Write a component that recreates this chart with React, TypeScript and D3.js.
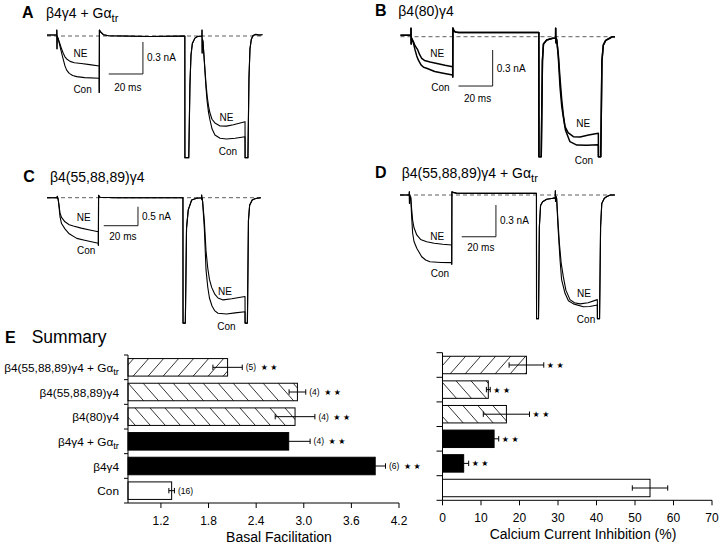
import React from 'react';
import * as d3 from 'd3';

type Pt = [number, number]; // [time (ms), current (nA)]

// ---------- Panel A: β4γ4 + Gαtr ----------
const A_pre: Pt[] = [[0, 0.01], [5.7, 0.01], [5.75, 0.055], [5.85, -0.12], [5.95, 0.0], [6.4, -0.02]];
const A_NE1: Pt[] = [[7.5, -0.07], [8.5, -0.12], [9.5, -0.162], [10.5, -0.195], [11.5, -0.215], [13.5, -0.238], [16, -0.25], [20, -0.258], [25, -0.268], [30.5, -0.281]];
const A_Con1: Pt[] = [[7.5, -0.09], [8.6, -0.162], [9.5, -0.22], [10.5, -0.28], [11.5, -0.32], [13, -0.35], [15, -0.37], [17.4, -0.381], [22, -0.39], [30.5, -0.396]];
const A_mid: Pt[] = [[30.55, -0.53], [30.65, 0.056], [31.5, 0.035], [33, 0.012], [36, 0.003], [60, -0.005], [80.6, 0], [80.65, -1.14], [82.9, -1.14], [83.6, -0.45], [84.2, -0.18], [85, -0.07], [86.5, -0.02], [88, -0.005], [90.6, 0], [90.65, 0.056], [90.75, -0.16], [90.85, -0.03]];
const A_NE2: Pt[] = [[91.2, -0.05], [91.8, -0.18], [92.4, -0.32], [93, -0.45], [93.7, -0.57], [94.5, -0.66], [95.3, -0.722], [96.5, -0.78], [98.2, -0.815], [101.2, -0.843], [105, -0.845], [109, -0.832], [113, -0.815], [115.8, -0.803]];
const A_Con2: Pt[] = [[91.2, -0.05], [91.8, -0.19], [92.4, -0.34], [93, -0.49], [93.7, -0.62], [94.5, -0.72], [95.3, -0.787], [96.5, -0.87], [98.2, -0.928], [101.2, -0.959], [105, -0.965], [110, -0.958], [115.8, -0.944]];
const A_post: Pt[] = [[115.85, -1.14], [117.5, -1.14], [118.1, -0.4], [118.7, -0.12], [119.5, -0.03], [120.5, 0.005], [122, 0.015], [124, 0.01], [126, 0.012]];

// ---------- Panel B: β4(80)γ4 ----------
const B_pre: Pt[] = [[0, 0.012], [6.1, 0.012], [6.15, 0.07], [6.25, -0.06], [6.4, -0.01]];
const B_NE1: Pt[] = [[7.5, -0.04], [8.5, -0.075], [10.1, -0.11], [11.2, -0.15], [12.4, -0.18], [14, -0.198], [17.3, -0.21], [22, -0.225], [26, -0.238], [30.5, -0.25]];
const B_Con1: Pt[] = [[7.5, -0.05], [8.5, -0.11], [9.5, -0.16], [10.4, -0.194], [12, -0.235], [13.5, -0.255], [15.3, -0.263], [20, -0.29], [25, -0.305], [30.5, -0.32]];
const B_mid: Pt[] = [[30.55, -0.336], [30.65, 0.072], [31.2, 0.05], [32, 0.04], [34, 0.035], [60, 0.035], [80.9, 0.035], [80.95, -1.0], [82.3, -1.0], [83.0, -0.2], [83.6, -0.06], [85.5, -0.028], [89, -0.013], [90.7, -0.01], [90.75, 0.07], [90.85, -0.05], [91.0, -0.01]];
const B_NE2: Pt[] = [[91.4, -0.03], [92.3, -0.15], [93.3, -0.35], [94.3, -0.528], [95.2, -0.65], [96.2, -0.75], [98, -0.8], [101.1, -0.833], [105, -0.835], [110, -0.82], [115.7, -0.805]];
const B_Con2: Pt[] = [[91.4, -0.03], [92.3, -0.17], [93.3, -0.42], [94.3, -0.58], [95.2, -0.667], [96.5, -0.78], [99.1, -0.875], [103.1, -0.903], [109, -0.905], [115.7, -0.9]];
const B_post: Pt[] = [[115.75, -1.0], [117.1, -1.0], [117.8, -0.2], [118.6, -0.07], [120, -0.03], [122, -0.015], [124, 0.0], [125.4, 0.0]];

// ---------- Panel C: β4(55,88,89)γ4 ----------
const C_pre: Pt[] = [[0, 0.0], [5.95, 0.0], [6.0, 0.04], [6.1, -0.02], [6.3, 0]];
const C_NE1: Pt[] = [[6.6, -0.06], [7.1, -0.22], [7.6, -0.4], [8.5, -0.52], [10.5, -0.635], [13, -0.71], [15.4, -0.745], [20, -0.8], [25, -0.85], [30, -0.895]];
const C_Con1: Pt[] = [[6.6, -0.07], [7.1, -0.26], [7.6, -0.5], [8.5, -0.68], [10.5, -0.82], [13, -0.95], [17.4, -1.07], [22, -1.12], [26, -1.16], [30, -1.2]];
const C_mid: Pt[] = [[30.05, -1.25], [30.15, 0.06], [31, 0.01], [40, 0], [79.5, 0], [79.55, -3.3], [80.9, -3.3], [81.6, -0.8], [82.6, -0.32], [84.6, -0.06], [87.5, -0.016], [90.4, 0], [90.45, 0.07], [90.55, -0.05], [90.7, 0]];
const C_NE2: Pt[] = [[91, -0.1], [92, -0.6], [93, -1.4], [94, -1.85], [95, -2.15], [96.3, -2.36], [98, -2.53], [100, -2.64], [103, -2.69], [108, -2.66], [115.8, -2.6]];
const C_Con2: Pt[] = [[91, -0.1], [92, -0.8], [93, -1.9], [94, -2.35], [95, -2.64], [96.5, -2.85], [98, -2.97], [100, -3.04], [105, -3.06], [110, -3.03], [115.8, -3.0]];
const C_post: Pt[] = [[115.85, -3.3], [117.2, -3.3], [117.8, -0.6], [118.5, -0.2], [120, -0.06], [122, -0.02], [125, 0]];

// ---------- Panel D: β4(55,88,89)γ4 + Gαtr ----------
const D_pre: Pt[] = [[0, 0.0], [5.4, 0.0], [5.45, 0.031], [5.55, -0.08], [5.7, -0.005]];
const D_NE1: Pt[] = [[6.3, -0.02], [6.8, -0.13], [7.4, -0.24], [8.2, -0.31], [9.8, -0.378], [12, -0.42], [15.6, -0.442], [20, -0.456], [25, -0.466], [30.2, -0.473]];
const D_Con1: Pt[] = [[6.3, -0.03], [6.8, -0.2], [7.4, -0.362], [8.2, -0.44], [9.8, -0.504], [12.7, -0.584], [15, -0.615], [17.5, -0.631], [24, -0.638], [30.2, -0.64]];
const D_mid: Pt[] = [[30.25, -0.655], [30.35, 0.031], [31, 0.025], [33, 0.018], [50, 0.015], [79.8, 0.015], [79.85, -1.17], [81.0, -1.17], [81.5, -0.3], [82.2, -0.1], [83.4, -0.063], [85.8, -0.04], [89.6, -0.03], [90.8, -0.028], [90.85, 0.04], [90.95, -0.06], [91.1, -0.01]];
const D_NE2: Pt[] = [[91.6, -0.03], [92.4, -0.25], [93.2, -0.457], [94.3, -0.65], [95.5, -0.773], [97, -0.9], [99.4, -0.99], [102, -1.02], [105.3, -1.03], [110, -1.02], [115.4, -0.99]];
const D_Con2: Pt[] = [[91.6, -0.035], [92.4, -0.3], [93.6, -0.615], [94.5, -0.8], [96.5, -0.93], [98.5, -1.0], [101.4, -1.03], [107.2, -1.057], [111, -1.055], [115.4, -1.04]];
const D_post: Pt[] = [[115.45, -1.17], [116.7, -1.17], [117.3, -0.3], [118, -0.08], [119.5, -0.03], [121, -0.015], [123, 0.0], [125.7, 0.0]];

// ---------- Summary (E) ----------
const categories = ['β4(55,88,89)γ4 + Gαtr', 'β4(55,88,89)γ4', 'β4(80)γ4', 'β4γ4 + Gαtr', 'β4γ4', 'Con'];
const facilitation = [2.04, 2.92, 2.89, 2.81, 3.9, 1.335];
const facilitationSE = [0.185, 0.105, 0.25, 0.27, 0.13, 0.035];
const cellCounts = ['(5)', '(4)', '(4)', '(4)', '(6)', '(16)'];
const facilitationSignif = [true, true, true, true, true, false];
const inhibition = [21.8, 11.9, 16.6, 13.4, 5.5, 53.9];
const inhibitionSE = [4.5, 0.5, 6.0, 1.2, 1.3, 4.6];
const inhibitionSignif = [true, true, true, true, true, false];
const barFills = ['fwd', 'back', 'back', 'solid', 'solid', 'open'];
const facilitationTicks = [1.2, 1.8, 2.4, 3.0, 3.6, 4.2];
const inhibitionTicks = [0, 10, 20, 30, 40, 50, 60, 70];

const FONT = "'Liberation Sans', Arial, Helvetica, sans-serif";

function RichLabel({ text, x, y, size, anchor, weight }: { text: string; x: number; y: number; size: number; anchor?: string; weight?: string }) {
  const idx = text.indexOf('Gαtr');
  if (idx < 0) {
    return <text x={x} y={y} fontSize={size} textAnchor={anchor || 'start'} fontWeight={weight} fontFamily={FONT}>{text}</text>;
  }
  return (
    <text x={x} y={y} fontSize={size} textAnchor={anchor || 'start'} fontWeight={weight} fontFamily={FONT}>
      {text.slice(0, idx) + 'Gα'}
      <tspan dy={size * 0.28} fontSize={size * 0.8}>tr</tspan>
    </text>
  );
}

type PanelCfg = {
  letter: string; letterX: number; baseY: number; title: string; titleX: number;
  x0: number; y0: number; pxMs: number; pxNA: number; tEnd: number;
  ne: Pt[]; con: Pt[];
  sbT: number; sbI: number; sbNA: number; sbLabel: string; msDy: number;
  labels: [string, number, number][]; lw: number;
};

const panels: PanelCfg[] = [
  {
    letter: 'A', letterX: 22, baseY: 18.3, title: 'β4γ4 + Gαtr', titleX: 46,
    x0: 47, y0: 36, pxMs: 1.71, pxNA: 106.7, tEnd: 126,
    ne: [...A_pre, ...A_NE1, ...A_mid, ...A_NE2, ...A_post],
    con: [...A_pre, ...A_Con1, ...A_mid, ...A_Con2, ...A_post],
    sbT: 56.1, sbI: -0.056, sbNA: 0.3, sbLabel: '0.3 nA', msDy: 13.7,
    labels: [['NE', 19.6, -0.16], ['Con', 20.8, -0.503], ['NE', 105, -0.76], ['Con', 105.8, -1.087]], lw: 1.1,
  },
  {
    letter: 'B', letterX: 375, baseY: 15.5, title: 'β4(80)γ4', titleX: 398.3,
    x0: 400.5, y0: 36.7, pxMs: 1.71, pxNA: 120, tEnd: 125.4,
    ne: [...B_pre, ...B_NE1, ...B_mid, ...B_NE2, ...B_post],
    con: [...B_pre, ...B_Con1, ...B_mid, ...B_Con2, ...B_post],
    sbT: 53.9, sbI: -0.111, sbNA: 0.3, sbLabel: '0.3 nA', msDy: 12,
    labels: [['NE', 21.5, -0.136], ['Con', 23.4, -0.425], ['NE', 106.9, -0.72], ['Con', 107.3, -1.03]], lw: 1.5,
  },
  {
    letter: 'C', letterX: 23.3, baseY: 181.7, title: 'β4(55,88,89)γ4', titleX: 50,
    x0: 47, y0: 197.7, pxMs: 1.71, pxNA: 38, tEnd: 125,
    ne: [...C_pre, ...C_NE1, ...C_mid, ...C_NE2, ...C_post],
    con: [...C_pre, ...C_Con1, ...C_mid, ...C_Con2, ...C_post],
    sbT: 53.2, sbI: -0.237, sbNA: 0.5, sbLabel: '0.5 nA', msDy: 10.3,
    labels: [['NE', 21.5, -0.52], ['Con', 22.9, -1.39], ['NE', 104.1, -2.47], ['Con', 104.9, -3.39]], lw: 1.1,
  },
  {
    letter: 'D', letterX: 375, baseY: 178, title: 'β4(55,88,89)γ4 + Gαtr', titleX: 401.7,
    x0: 400, y0: 195, pxMs: 1.71, pxNA: 105.7, tEnd: 125.7,
    ne: [...D_pre, ...D_NE1, ...D_mid, ...D_NE2, ...D_post],
    con: [...D_pre, ...D_Con1, ...D_mid, ...D_Con2, ...D_post],
    sbT: 56.1, sbI: -0.095, sbNA: 0.3, sbLabel: '0.3 nA', msDy: 10.6,
    labels: [['NE', 21.8, -0.388], ['Con', 23.4, -0.74], ['NE', 107.6, -0.93], ['Con', 108.8, -1.176]], lw: 1.1,
  },
];

function TracePanel({ c }: { c: PanelCfg }) {
  const x = d3.scaleLinear().domain([0, 1]).range([c.x0, c.x0 + c.pxMs]);
  const y = d3.scaleLinear().domain([0, -1]).range([c.y0, c.y0 + c.pxNA]);
  const line = d3.line<Pt>().x((d) => x(d[0])).y((d) => y(d[1]));
  const sbX = x(c.sbT);
  const sbTop = y(c.sbI);
  const sbBot = y(c.sbI - c.sbNA);
  return (
    <g>
      <text x={c.letterX} y={c.baseY} fontSize={16} fontWeight="bold" fontFamily={FONT}>{c.letter}</text>
      <RichLabel text={c.title} x={c.titleX} y={c.baseY} size={14} />
      <line x1={x(0)} x2={x(c.tEnd)} y1={y(0)} y2={y(0)} stroke="#333" strokeWidth={0.8} strokeDasharray="4,3" />
      <path d={line(c.con) || ''} fill="none" stroke="#000" strokeWidth={c.lw} strokeLinejoin="round" />
      <path d={line(c.ne) || ''} fill="none" stroke="#000" strokeWidth={c.lw} strokeLinejoin="round" />
      <path d={`M${x(c.sbT - 20)},${sbBot}H${sbX}V${sbTop}`} fill="none" stroke="#000" strokeWidth={0.9} />
      <text x={sbX + 4} y={(sbTop + sbBot) / 2 + 3.5} fontSize={10} fontFamily={FONT}>{c.sbLabel}</text>
      <text x={x(c.sbT - 10) + 2} y={sbBot + c.msDy + 3.5} fontSize={10} textAnchor="middle" fontFamily={FONT}>20 ms</text>
      {c.labels.map(([t, tt, ii], i) => (
        <text key={i} x={x(tt)} y={y(ii) + 3.5} fontSize={10} textAnchor="middle" fontFamily={FONT}>{t}</text>
      ))}
    </g>
  );
}

function fillFor(kind: string) {
  if (kind === 'fwd') return 'url(#hatchF)';
  if (kind === 'back') return 'url(#hatchB)';
  if (kind === 'solid') return '#000';
  return '#fff';
}

function BarChart({ values, se, xDomain, xRange, yRange, ticks, tickFmt, tickLen, title, titleX, annot, signif, showCats }: any) {
  const x = d3.scaleLinear().domain(xDomain).range(xRange);
  const yb = d3.scaleBand<string>().domain(categories).range(yRange).paddingInner(0.29).paddingOuter(0.145);
  const bw = yb.bandwidth();
  const step = yb.step();
  const axisY = yRange[1];
  const x0 = xRange[0];
  return (
    <g fontFamily={FONT}>
      {categories.map((cat, i) => {
        const top = yb(cat) as number;
        const cy = top + bw / 2;
        const v = values[i];
        const s = se[i];
        const xe = x(v + s);
        return (
          <g key={cat}>
            <rect x={x0} y={top} width={x(v) - x0} height={bw} fill={fillFor(barFills[i])} stroke="#000" strokeWidth={1} />
            <line x1={x(v - s)} x2={xe} y1={cy} y2={cy} stroke="#000" strokeWidth={1} />
            <line x1={x(v - s)} x2={x(v - s)} y1={cy - 2.7} y2={cy + 2.7} stroke="#000" strokeWidth={1} />
            <line x1={xe} x2={xe} y1={cy - 2.7} y2={cy + 2.7} stroke="#000" strokeWidth={1} />
            {annot ? (
              <text x={xe + 3.5} y={cy + 3} fontSize={8.5}>
                {annot[i]}
                {signif[i] ? <tspan dx={4.5} fontSize={8} fontFamily="DejaVu Sans">★</tspan> : null}
                {signif[i] ? <tspan dx={2.5} fontSize={8} fontFamily="DejaVu Sans">★</tspan> : null}
              </text>
            ) : signif[i] ? (
              <text x={xe + 3} y={cy + 3} fontSize={8} fontFamily="DejaVu Sans">★<tspan dx={2.5}>★</tspan></text>
            ) : null}
            {showCats ? <RichLabel text={cat} x={119} y={cy + 4.5} size={11.8} anchor="end" /> : null}
          </g>
        );
      })}
      <line x1={x0} x2={x0} y1={yRange[0]} y2={axisY} stroke="#000" strokeWidth={1} />
      {d3.range(categories.length + 1).map((k) => (
        <line key={k} x1={x0 - tickLen} x2={x0} y1={yRange[0] + k * step} y2={yRange[0] + k * step} stroke="#000" strokeWidth={1} />
      ))}
      <line x1={x0} x2={xRange[1]} y1={axisY} y2={axisY} stroke="#000" strokeWidth={1} />
      {ticks.map((t: number) => (
        <g key={t}>
          <line x1={x(t)} x2={x(t)} y1={axisY} y2={axisY + 5} stroke="#000" strokeWidth={1} />
          <text x={x(t)} y={axisY + 22} fontSize={12} textAnchor="middle">{tickFmt(t)}</text>
        </g>
      ))}
      <text x={titleX} y={axisY + 39} fontSize={14} textAnchor="middle">{title}</text>
    </g>
  );
}

export default function App() {
  return (
    <svg width={720} height={545} style={{ position: 'absolute', left: 0, top: 0, background: '#fff' }}>
      <defs>
        <pattern id="hatchF" patternUnits="userSpaceOnUse" width={15} height={17}>
          <path d="M0,17 L15,0 M-15,17 L0,0 M15,17 L30,0" stroke="#000" strokeWidth={0.8} />
        </pattern>
        <pattern id="hatchB" patternUnits="userSpaceOnUse" width={15} height={17}>
          <path d="M0,0 L15,17 M-15,0 L0,17 M15,0 L30,17" stroke="#000" strokeWidth={0.8} />
        </pattern>
      </defs>
      <rect x={0} y={0} width={720} height={545} fill="#fff" />
      {panels.map((p) => <TracePanel key={p.letter} c={p} />)}
      <text x={5} y={343} fontSize={16} fontWeight="bold" fontFamily={FONT}>E</text>
      <text x={31.7} y={343} fontSize={17.5} fontFamily={FONT}>Summary</text>
      <BarChart values={facilitation} se={facilitationSE} xDomain={[0.785, 4.2]} xRange={[128, 399]} yRange={[355, 503]}
        ticks={facilitationTicks} tickFmt={(t: number) => t.toFixed(1)} tickLen={4} title="Basal Facilitation" titleX={279}
        annot={cellCounts} signif={facilitationSignif} showCats={true} />
      <BarChart values={inhibition} se={inhibitionSE} xDomain={[0, 70]} xRange={[442.5, 712]} yRange={[352.7, 500.3]}
        ticks={inhibitionTicks} tickFmt={(t: number) => String(t)} tickLen={6} title="Calcium Current Inhibition (%)" titleX={583}
        annot={null} signif={inhibitionSignif} showCats={false} />
    </svg>
  );
}
